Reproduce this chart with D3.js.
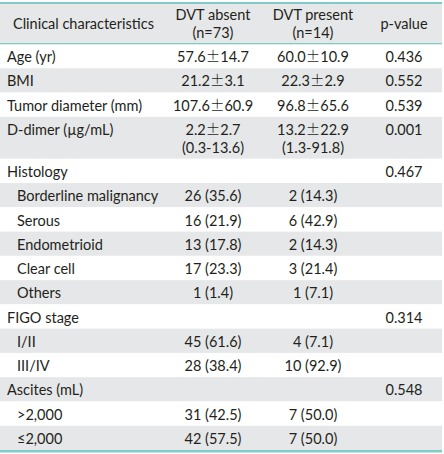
<!DOCTYPE html>
<html>
<head>
<meta charset="utf-8">
<script src="https://cdn.jsdelivr.net/npm/d3@7"></script>
<style>
  html, body { margin: 0; padding: 0; background: #fff; }
  svg { display: block; }
  text { font-family: Lato, "Noto Sans", sans-serif; fill: #231f20; }
  tspan.sym { font-family: "Noto Sans CJK KR", "Noto Sans CJK SC", sans-serif; font-weight: 300; }
</style>
</head>
<body>
<div id="chart"></div>
<script>
// ---- data ----
const headers = [["Clinical characteristics"], ["DVT absent", "(n=73)"], ["DVT present", "(n=14)"], ["p-value"]];
const labels = ["Age (yr)", "BMI", "Tumor diameter (mm)", "D-dimer (\u00b5g/mL)", "Histology",
  "Borderline malignancy", "Serous", "Endometrioid", "Clear cell", "Others",
  "FIGO stage", "I/II", "III/IV", "Ascites (mL)", ">2,000", "\u22642,000"];
const indentLevel = [0, 0, 0, 0, 0, 1, 1, 1, 1, 1, 0, 1, 1, 0, 1, 1];
const absentValues = [["57.6\u00b114.7"], ["21.2\u00b13.1"], ["107.6\u00b160.9"], ["2.2\u00b12.7", "(0.3-13.6)"], [""],
  ["26 (35.6)"], ["16 (21.9)"], ["13 (17.8)"], ["17 (23.3)"], ["1 (1.4)"],
  [""], ["45 (61.6)"], ["28 (38.4)"], [""], ["31 (42.5)"], ["42 (57.5)"]];
const presentValues = [["60.0\u00b110.9"], ["22.3\u00b12.9"], ["96.8\u00b165.6"], ["13.2\u00b122.9", "(1.3-91.8)"], [""],
  ["2 (14.3)"], ["6 (42.9)"], ["2 (14.3)"], ["3 (21.4)"], ["1 (7.1)"],
  [""], ["4 (7.1)"], ["10 (92.9)"], [""], ["7 (50.0)"], ["7 (50.0)"]];
const pValues = ["0.436", "0.552", "0.539", "0.001", "0.467", "", "", "", "", "", "0.314", "", "", "0.548", "", ""];

// ---- layout ----
const W = 444, H = 454;
const tableLeft = 0, tableRight = 442;
const topLine = 2, headerBottom = 44, tableBottom = 450;
const teal = "#80cbc5", gray = "#e6e7e8";
const fontSize = 14.5;
const lineGap = 18;

const svg = d3.select("#chart").append("svg").attr("width", W).attr("height", H);

// write text, putting ± in a CJK font like the reference
function fill(sel, t) {
  sel.text(null);
  const parts = t.split(/(\u00b1)/);
  parts.forEach(p => {
    if (!p) return;
    const ts = sel.append("tspan").text(p);
    if (p === "\u00b1") ts.attr("class", "sym");
  });
}

const rows = labels.map((l, i) => ({
  label: l, indent: indentLevel[i], absent: absentValues[i], present: presentValues[i], p: pValues[i],
  units: Math.max(absentValues[i].length, presentValues[i].length) > 1 ? 1.73 : 1
}));
let acc = 0;
rows.forEach(r => { r.u0 = acc; acc += r.units; r.u1 = acc; });
const y = d3.scaleLinear().domain([0, acc]).range([headerBottom, tableBottom]);

const colX = d3.scaleOrdinal().domain(["label", "absent", "present", "p"]).range([7, 213, 313, 404]);

// header background
svg.append("rect").attr("x", tableLeft).attr("y", topLine).attr("width", tableRight - tableLeft)
  .attr("height", headerBottom - topLine).attr("fill", gray);

// row backgrounds
svg.selectAll("rect.row").data(rows).join("rect").attr("class", "row")
  .attr("x", tableLeft).attr("width", tableRight - tableLeft)
  .attr("y", d => y(d.u0)).attr("height", d => y(d.u1) - y(d.u0))
  .attr("fill", (d, i) => i % 2 === 1 ? gray : "#fff");

// lines
svg.append("rect").attr("x", tableLeft).attr("y", topLine).attr("width", tableRight - tableLeft).attr("height", 2).attr("fill", teal);
svg.append("rect").attr("x", tableLeft).attr("y", headerBottom - 1).attr("width", tableRight - tableLeft).attr("height", 1.3).attr("fill", teal);
svg.append("rect").attr("x", tableLeft).attr("y", tableBottom).attr("width", tableRight - tableLeft).attr("height", 2.5).attr("fill", teal);

// header text
const headerKeys = ["label", "absent", "present", "p"];
headers.forEach((lines, j) => {
  const x = j === 0 ? 13 : colX(headerKeys[j]);
  const mid = (topLine + headerBottom) / 2 + 1;
  lines.forEach((t, k) => {
    svg.append("text").attr("x", x).attr("y", mid + (k - (lines.length - 1) / 2) * lineGap)
      .attr("dy", "0.35em").attr("font-size", fontSize)
      .attr("text-anchor", j === 0 ? "start" : "middle").text(t);
  });
});

// body text
const g = svg.selectAll("g.r").data(rows).join("g").attr("class", "r")
  .attr("transform", d => `translate(0,${y(d.u0)})`);
const rowH = y(1) - y(0);
g.append("text").attr("x", d => colX("label") + d.indent * 10).attr("y", rowH / 2 + 1).attr("dy", "0.35em")
  .attr("font-size", fontSize).each(function(d) { fill(d3.select(this), d.label); });
["absent", "present"].forEach(k => {
  g.each(function(d) {
    d3.select(this).selectAll("text." + k).data(d[k]).join("text").attr("class", k)
      .attr("x", colX(k)).attr("y", (t, i) => rowH / 2 + 1 + i * lineGap).attr("dy", "0.35em")
      .attr("text-anchor", "middle").attr("font-size", fontSize)
      .each(function(t) { fill(d3.select(this), t); });
  });
});
g.append("text").attr("x", colX("p")).attr("y", rowH / 2 + 1).attr("dy", "0.35em")
  .attr("text-anchor", "middle").attr("font-size", fontSize).text(d => d.p);
</script>
</body>
</html>
